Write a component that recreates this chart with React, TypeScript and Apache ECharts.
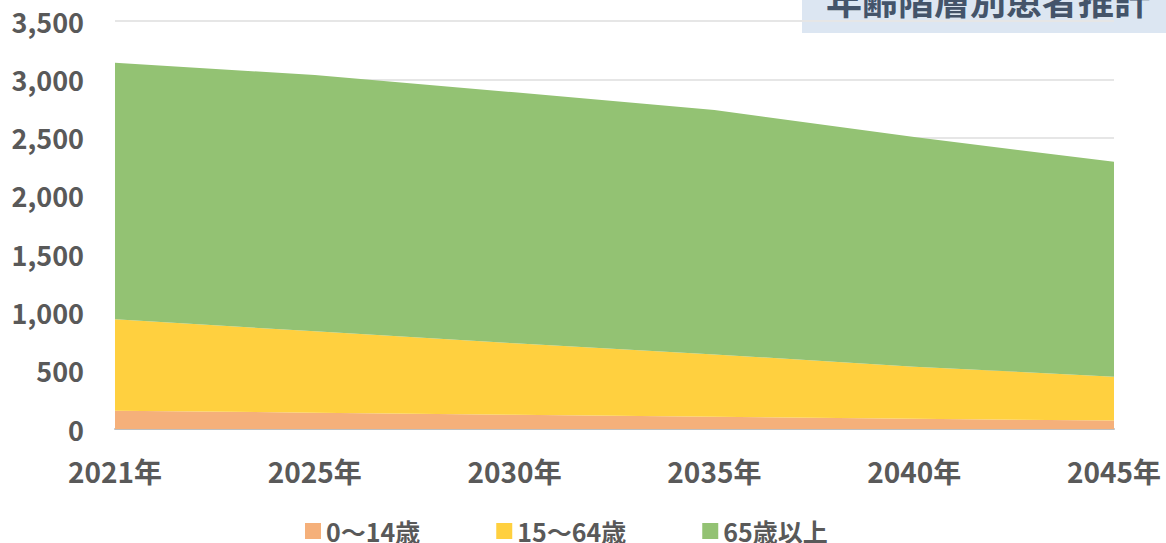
import React, { useEffect, useRef } from "react";
import * as echarts from "echarts";

const categories = ["2021年", "2025年", "2030年", "2035年", "2040年", "2045年"];
const age0to14 = [157, 140, 122, 105, 88, 72];
const age15to64 = [784, 698, 613, 535, 447, 377];
const age65plus = [2200, 2198, 2153, 2096, 1969, 1843];
const seriesNames = ["0〜14歳", "15〜64歳", "65歳以上"];
const yTicks = { min: 0, max: 3500, interval: 500 };
const title = "年齢階層別患者推計";

const FONT = "'Noto Sans CJK JP', 'Noto Sans', sans-serif";

export default function App() {
  const ref = useRef<HTMLDivElement>(null);
  useEffect(() => {
    if (!ref.current) return;
    const chart = echarts.init(ref.current, undefined, { renderer: "svg" });
    const colors = ["#f5b07a", "#ffd03f", "#93c273"];
    const data = [age0to14, age15to64, age65plus];
    chart.setOption({
      animation: false,
      textStyle: { fontFamily: FONT },
      grid: { left: 115, right: 52, top: 21, bottom: 114 },
      legend: {
        data: seriesNames,
        top: 512,
        left: 300,
        itemWidth: 16,
        itemHeight: 16,
        itemGap: 76,
        icon: "rect",
        textStyle: { fontSize: 25, lineHeight: 28, color: "#595959", fontWeight: "bold", fontFamily: FONT },
      },
      xAxis: {
        type: "category",
        data: categories,
        boundaryGap: false,
        axisLine: { lineStyle: { color: "#bfbfbf", width: 2 } },
        axisTick: { show: false },
        axisLabel: { fontSize: 28, color: "#595959", fontWeight: "bold", margin: 28, fontFamily: FONT },
      },
      yAxis: {
        type: "value",
        min: yTicks.min,
        max: yTicks.max,
        interval: yTicks.interval,
        axisLine: { show: false },
        axisTick: { show: false },
        splitLine: { lineStyle: { color: "#e6e6e6", width: 2 } },
        axisLabel: {
          fontSize: 27,
          color: "#595959",
          fontWeight: "bold",
          margin: 31,
          fontFamily: FONT,
          formatter: (v: number) => v.toLocaleString("en-US"),
        },
      },
      series: seriesNames.map((name, i) => ({
        name,
        type: "line",
        stack: "total",
        data: data[i],
        symbol: "none",
        lineStyle: { width: 0 },
        itemStyle: { color: colors[i] },
        areaStyle: { color: colors[i], opacity: 1 },
      })),
      graphic: [
        {
          type: "rect",
          shape: { x: 802, y: 0, width: 364, height: 33 },
          style: { fill: "#dce6f2" },
        },
        {
          type: "text",
          x: 988,
          y: -1,
          style: {
            text: title,
            fontSize: 36,
            fontWeight: "bold",
            fill: "#44546a",
            fontFamily: FONT,
            align: "center",
            verticalAlign: "middle",
          },
        },
      ],
    });
    return () => chart.dispose();
  }, []);
  return <div ref={ref} style={{ width: 1166, height: 543, position: "absolute", left: 0, top: 0 }} />;
}
